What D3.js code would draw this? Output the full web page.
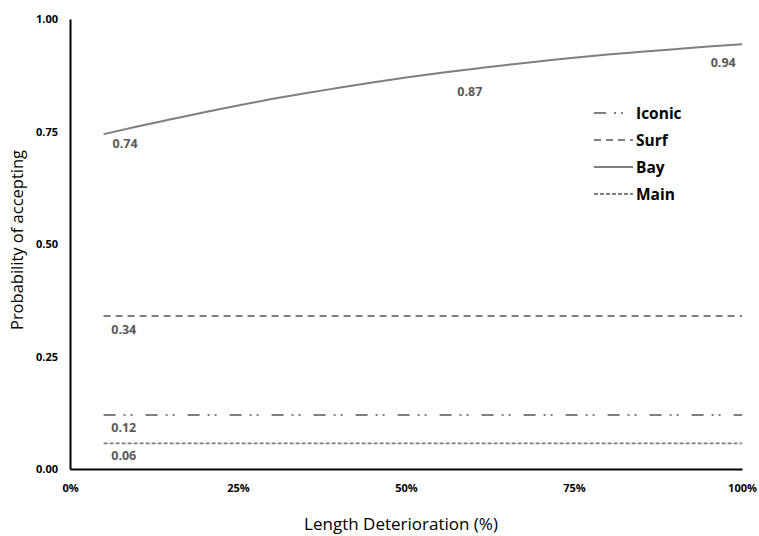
<!DOCTYPE html>
<html><head><meta charset="utf-8">
<script src="https://cdn.jsdelivr.net/npm/d3@7"></script>
<style>body{margin:0;background:#fff}svg{display:block}</style>
</head><body>
<svg id="c" width="759" height="536"></svg>
<script>
// Data
const xPct = [5,10,15,20,25,30,35,40,45,50,55,60,65,70,75,80,85,90,95,100];
const bay  = [0.744,0.761,0.777,0.793,0.808,0.822,0.835,0.847,0.859,0.870,0.880,0.889,0.898,0.906,0.914,0.921,0.927,0.933,0.939,0.944];
const surf   = [0.34,0.34];
const iconic = [0.12,0.12];
const main   = [0.057,0.057];
const flatX  = [5,100];
const seriesNames = ["Iconic","Surf","Bay","Main"];
const yTicks = [0,0.25,0.5,0.75,1.0];
const xTicks = [0,25,50,75,100];
// data labels: text, x (%), value where label sits
const labelText = ["0.74","0.87","0.94","0.34","0.12","0.06"];
const labelX    = [8.2,59.5,97.2,8.0,8.0,8.0];
const labelY    = [0.724,0.838,0.904,0.309,0.093,0.031];

const svg = d3.select("#c");
const L=70,R=742,T=19,B=469;
const x = d3.scaleLinear().domain([0,100]).range([L,R]);
const y = d3.scaleLinear().domain([0,1]).range([B,T]);
const font = "'Open Sans', Lato, sans-serif";
const grey = "#7f7f7f";

const styles = {
  Iconic:{dash:"12,8,2,5,2,13", w:2},
  Surf:{dash:"7,5", w:2},
  Bay:{dash:null, w:2},
  Main:{dash:"4,2", w:1.8}
};
const series = [
  {name:"Iconic", xs:flatX, ys:iconic},
  {name:"Surf", xs:flatX, ys:surf},
  {name:"Bay", xs:xPct, ys:bay},
  {name:"Main", xs:flatX, ys:main}
];
const line = d3.line().x(d=>x(d[0])).y(d=>y(d[1])).curve(d3.curveMonotoneX);
series.forEach(s=>{
  const st = styles[s.name];
  svg.append("path").datum(s.xs.map((v,i)=>[v,s.ys[i]]))
    .attr("d",line).attr("fill","none").attr("stroke",grey)
    .attr("stroke-width",st.w).attr("stroke-dasharray",st.dash);
});

// axes
const yAxis = d3.axisLeft(y).tickValues(yTicks).tickSize(0).tickPadding(12).tickFormat(d3.format(".2f"));
const gy = svg.append("g").attr("transform",`translate(${L},0)`).call(yAxis);
const xAxis = d3.axisBottom(x).tickValues(xTicks).tickSize(0).tickPadding(15).tickFormat(d=>d+"%");
const gx = svg.append("g").attr("transform",`translate(0,${B})`).call(xAxis);
[gx,gy].forEach(g=>{
  g.select(".domain").attr("stroke","#000").attr("stroke-width",2);
  g.selectAll("text").attr("font-family",font).attr("font-weight","bold").attr("font-size",11).attr("fill","#000");
});

// data labels
labelText.forEach((t,i)=>{
  svg.append("text").attr("x",x(labelX[i])).attr("y",y(labelY[i]))
    .attr("text-anchor","middle").attr("dominant-baseline","central")
    .attr("font-family",font).attr("font-weight","bold").attr("font-size",12.5)
    .attr("fill","#595959").text(t);
});

// axis titles
svg.append("text").attr("transform","translate(16,240) rotate(-90)")
  .attr("text-anchor","middle").attr("dominant-baseline","central")
  .attr("font-family",font).attr("font-size",16.5).attr("fill","#000")
  .text("Probability of accepting");
svg.append("text").attr("x",401).attr("y",523)
  .attr("text-anchor","middle").attr("dominant-baseline","central")
  .attr("font-family",font).attr("font-size",17).attr("fill","#000")
  .text("Length Deterioration (%)");

// legend
const lg = svg.append("g").attr("transform","translate(594,113)");
seriesNames.forEach((n,i)=>{
  const st = styles[n];
  const row = lg.append("g").attr("transform",`translate(0,${i*27})`);
  row.append("line").attr("x1",0).attr("x2",39).attr("y1",0).attr("y2",0)
    .attr("stroke",grey).attr("stroke-width",st.w).attr("stroke-dasharray",st.dash);
  row.append("text").attr("x",42).attr("y",0).attr("dominant-baseline","central")
    .attr("font-family",font).attr("font-weight","bold").attr("font-size",15.5)
    .attr("fill","#000").text(n);
});
</script>
</body></html>
